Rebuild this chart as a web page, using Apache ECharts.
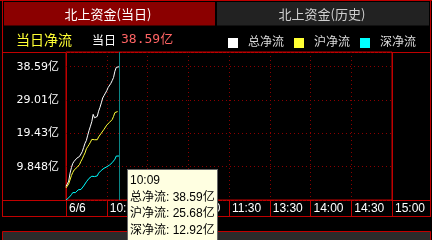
<!DOCTYPE html>
<html><head><meta charset="utf-8">
<script src="https://cdn.jsdelivr.net/npm/echarts@6/dist/echarts.min.js"></script>
<style>html,body{margin:0;padding:0;background:#000;overflow:hidden}#c{width:432px;height:240px;}</style>
</head><body><div id="c"></div>
<script>
const xTickIdx = [0, 30, 60, 90, 120, 150, 180, 210, 240];
const xTickLabels = ["6/6", "10:00", "10:30", "11:00", "11:30", "13:30", "14:00", "14:30", "15:00"];
const yTicks = [9.848, 19.43, 29.01, 38.59];
const yTickLabels = ["9.848亿", "19.43亿", "29.01亿", "38.59亿"];
const seriesNames = ["总净流", "沪净流", "深净流"];
const totalFlow = [4.2, 4.9, 5.7, 8.0, 9.6, 10.8, 11.4, 11.8, 12.3, 12.2,
  12.8, 13.3, 14.2, 15.4, 16.6, 17.4, 18.9, 20.3, 21.5, 22.8,
  24.9, 23.9, 23.6, 24.3, 25.8, 26.9, 28.2, 29.6, 30.3, 31.0,
  31.7, 32.6, 33.1, 33.8, 34.6, 35.5, 37.3, 38.4, 38.3, 38.59];
const shFlow = [3.73, 4.3, 4.9, 5.3, 7.3, 8.2, 8.9, 9.2, 9.6, 9.9,
  10.5, 11.4, 12.1, 13.0, 13.8, 15.0, 15.6, 16.2, 16.9, 17.7,
  18.0, 17.6, 17.3, 17.6, 18.4, 18.9, 19.5, 20.0, 20.6, 21.1,
  21.8, 22.3, 22.6, 23.0, 23.4, 24.3, 25.4, 25.8, 25.7, 25.68];
const szFlow = [0.27, 0.6, 0.9, 1.4, 1.8, 2.4, 2.8, 2.4, 2.9, 3.2,
  3.2, 3.3, 3.6, 4.3, 4.8, 5.5, 6.0, 6.5, 6.8, 7.1,
  7.2, 7.0, 6.9, 7.2, 8.0, 8.5, 8.8, 9.0, 9.4, 9.6,
  9.8, 10.0, 10.3, 10.7, 11.0, 11.4, 12.0, 12.9, 12.9, 12.92];
const cursorIndex = 39;
const todayValue = "38.59亿";

function pad(n) { return (n < 10 ? '0' : '') + n; }
const categories = [];
for (let m = 9 * 60 + 30; m <= 11 * 60 + 30; m++) categories.push(Math.floor(m / 60) + ':' + pad(m % 60));
for (let m = 13 * 60 + 1; m <= 15 * 60; m++) categories.push(Math.floor(m / 60) + ':' + pad(m % 60));

const RED = '#c00000';
const DOT = '#8a0000';
const cjk = "'Liberation Sans','Noto Sans CJK SC',sans-serif";

function hl(y, x1, x2) { return { type: 'line', silent: true, shape: { x1: x1, y1: y, x2: x2, y2: y }, style: { stroke: RED, lineWidth: 1 } }; }
function vl(x, y1, y2) { return { type: 'line', silent: true, shape: { x1: x, y1: y1, x2: x, y2: y2 }, style: { stroke: RED, lineWidth: 1 } }; }

const chart = echarts.init(document.getElementById('c'), null, { renderer: 'canvas' });
chart.setOption({
  animation: false,
  backgroundColor: '#000',
  textStyle: { fontFamily: cjk },
  graphic: [
    hl(0.5, 0, 432), vl(2.5, 0, 217), vl(430.5, 0, 217),
    hl(52.5, 2.5, 430.5), hl(200.5, 2.5, 430.5), hl(216.5, 2.5, 430.5),
    vl(66.5, 52, 217), vl(392.5, 52, 217),
    { type: 'rect', silent: true, shape: { x: 4, y: 2, width: 211, height: 23.5 }, style: { fill: '#8b0000' } },
    { type: 'rect', silent: true, shape: { x: 217, y: 2, width: 212, height: 23.5 }, style: { fill: '#222222' } },
    { type: 'text', silent: true, style: { x: 108, y: 14, text: '北上资金(当日)', fill: '#ffffff', font: "13px 'Noto Sans CJK SC'", align: 'center', verticalAlign: 'middle' } },
    { type: 'text', silent: true, style: { x: 322, y: 14, text: '北上资金(历史)', fill: '#d0d0d0', font: "13px 'Noto Sans CJK SC'", align: 'center', verticalAlign: 'middle' } },
    { type: 'text', silent: true, style: { x: 16, y: 40, text: '当日净流', fill: '#ffff33', font: "14px 'Noto Sans CJK SC'", verticalAlign: 'middle' } },
    { type: 'text', silent: true, style: { x: 92, y: 40, text: '当日', fill: '#ffffff', font: "12px 'Noto Sans CJK SC'", verticalAlign: 'middle' } },
    { type: 'text', silent: true, style: { x: 121, y: 40, text: todayValue, fill: '#ff6464', font: "13px 'DejaVu Sans Mono','Noto Sans CJK SC'", verticalAlign: 'middle' } },
    { type: 'rect', silent: true, shape: { x: 2.5, y: 231.5, width: 428, height: 20 }, style: { fill: '#2b2b2b', stroke: RED, lineWidth: 1 } }
  ],
  legend: {
    data: seriesNames,
    right: 11, top: 32,
    icon: 'rect', itemWidth: 10, itemHeight: 10, itemGap: 10,
    selectedMode: false,
    textStyle: { color: '#dddddd', fontSize: 12, padding: [0, 0, 0, 5], fontFamily: cjk }
  },
  grid: { left: 66, top: 52, width: 326, height: 148, show: true, borderColor: RED, borderWidth: 1, backgroundColor: '#000' },
  tooltip: {
    trigger: 'axis',
    alwaysShowContent: true,
    position: [127, 169],
    backgroundColor: '#ffffe1',
    borderColor: '#666',
    borderWidth: 1,
    padding: [2, 2, 2, 2],
    extraCssText: 'border-radius:0;box-shadow:none;',
    axisPointer: { type: 'line', lineStyle: { color: '#0c8585', width: 1, type: 'solid' }, label: { show: false } },
    formatter: function (params) {
      const i = params[0].dataIndex;
      const s = 'font-family:' + cjk.replace(/'/g, '"') + ';font-size:12px;line-height:16.5px;color:#000;';
      return '<div style=\'' + s + '\'>' + categories[i] + '<br/>' +
        seriesNames[0] + ': ' + totalFlow[i].toFixed(2) + '亿<br/>' +
        seriesNames[1] + ': ' + shFlow[i].toFixed(2) + '亿<br/>' +
        seriesNames[2] + ': ' + szFlow[i].toFixed(2) + '亿</div>';
    }
  },
  xAxis: {
    type: 'category',
    data: categories,
    boundaryGap: false,
    axisLine: { show: false },
    axisTick: { show: true, length: 17, interval: function (i) { return xTickIdx.indexOf(i) >= 0; }, lineStyle: { color: RED } },
    axisLabel: {
      show: true, color: '#ffffff', fontSize: 12, fontFamily: "'Liberation Sans',sans-serif",
      align: 'left', margin: 3, padding: [0, 0, 0, 3],
      interval: function (i) { return xTickIdx.indexOf(i) >= 0; },
      formatter: function (v, i) { const k = xTickIdx.indexOf(i); return k >= 0 ? xTickLabels[k] : ''; }
    },
    splitLine: { show: true, interval: function (i) { return xTickIdx.indexOf(i) > 0 && i < 240; }, lineStyle: { color: DOT, type: [1, 3] } }
  },
  yAxis: {
    type: 'value',
    min: 0.2675, max: 42.83, interval: 9.5805,
    axisLine: { show: false }, axisTick: { show: false },
    axisLabel: {
      color: '#ffffff', fontSize: 11, fontFamily: "'DejaVu Sans','Noto Sans CJK SC'", margin: 7,
      formatter: function (v) { for (let k = 0; k < yTicks.length; k++) { if (Math.abs(v - yTicks[k]) < 0.01) return yTickLabels[k]; } return ''; }
    },
    splitLine: { show: true, lineStyle: { color: DOT, type: [1, 3] } }
  },
  series: [
    { name: seriesNames[0], type: 'line', data: totalFlow, showSymbol: false, symbol: 'none', lineStyle: { color: '#ffffff', width: 1 }, itemStyle: { color: '#ffffff' } },
    { name: seriesNames[1], type: 'line', data: shFlow, showSymbol: false, symbol: 'none', lineStyle: { color: '#ffff33', width: 1 }, itemStyle: { color: '#ffff33' } },
    { name: seriesNames[2], type: 'line', data: szFlow, showSymbol: false, symbol: 'none', lineStyle: { color: '#00ffff', width: 1 }, itemStyle: { color: '#00ffff' } }
  ]
});
chart.dispatchAction({ type: 'showTip', seriesIndex: 0, dataIndex: cursorIndex });
</script></body></html>
